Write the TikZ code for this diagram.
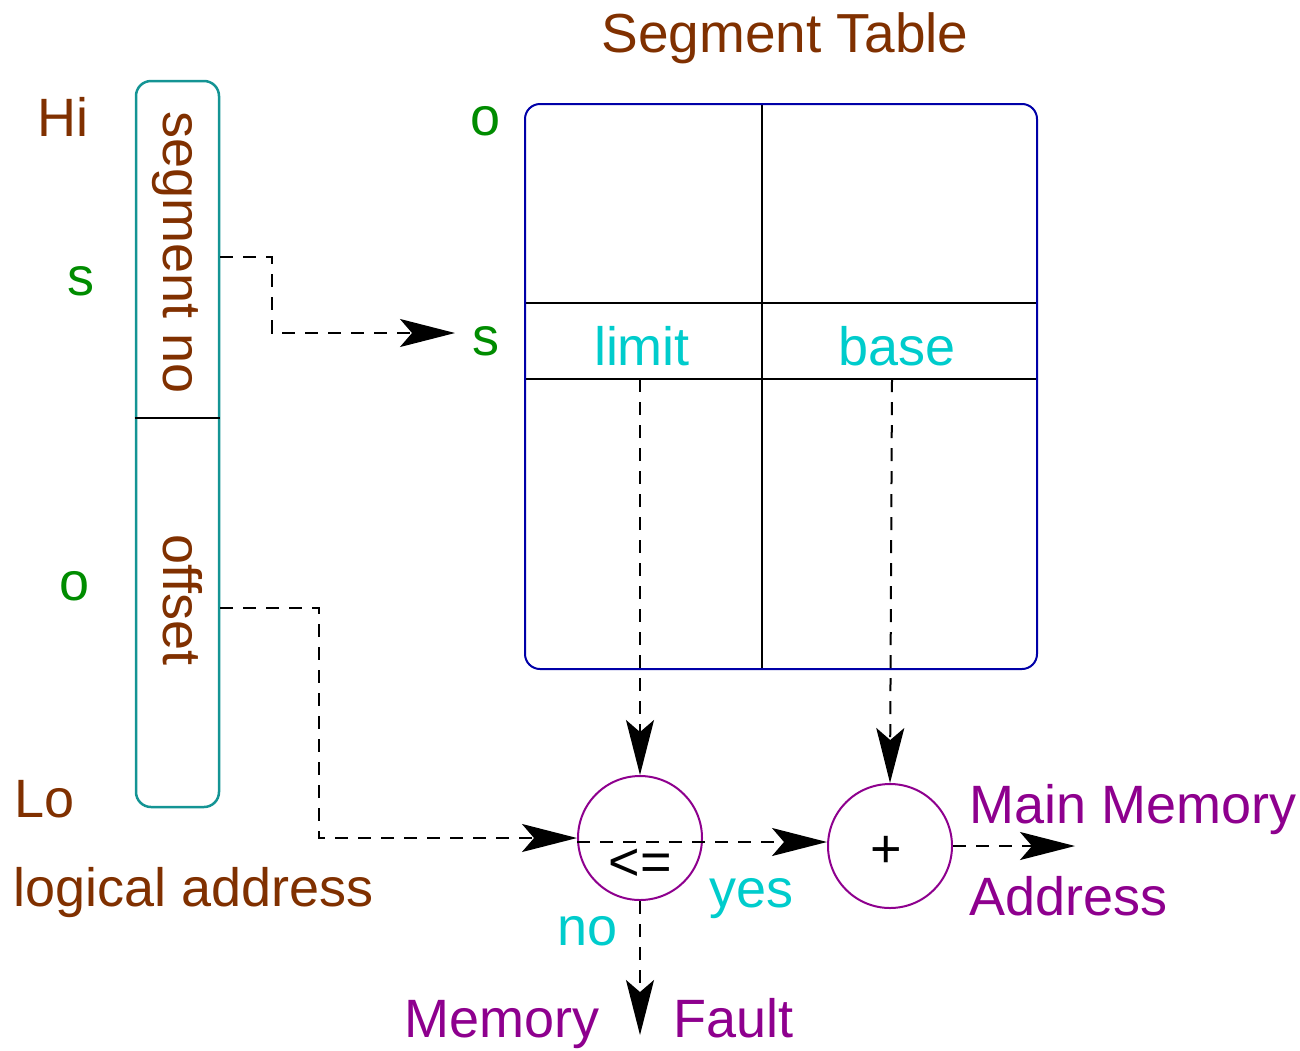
\documentclass[tikz,border=0pt]{standalone}
\usepackage{fontspec}
\setmainfont{Liberation Sans}
\usetikzlibrary{arrows.meta}
\definecolor{lbrown}{RGB}{128,48,0}
\definecolor{lgreen}{RGB}{0,140,0}
\definecolor{lcyan}{RGB}{0,204,204}
\definecolor{lpurple}{RGB}{142,0,142}
\definecolor{lteal}{RGB}{20,148,148}
\definecolor{lblue}{RGB}{0,0,168}
\begin{document}
\begin{tikzpicture}[x=1pt,y=-1pt,
  txt/.style={font=\fontsize{54}{60}\selectfont, inner sep=0pt},
  brownt/.style={txt, text=lbrown},
  greent/.style={txt, text=lgreen},
  cyant/.style={txt, text=lcyan},
  purplet/.style={txt, text=lpurple},
  blackt/.style={txt, text=black},
  grid/.style={line width=2pt, black},
  dashline/.style={line width=2pt, dash pattern=on 13pt off 10pt},
  tip/.style={-{Stealth[length=55pt,width=28pt,inset=12pt]}},
  opcircle/.style={circle, draw=lpurple, line width=2pt, minimum size=124pt, inner sep=0pt},
]
\useasboundingbox (0,0) rectangle (1300,1050);

% logical address register
\node[draw=lteal, line width=2.5pt, rounded corners=15pt, minimum width=83pt,
      minimum height=726pt, inner sep=0pt] (laddr) at (177.5,444) {};
\draw[grid] (laddr.west |- 0,418) -- (laddr.east |- 0,418);
\node[brownt, rotate=-90, anchor=base] (segno) at (163,253) {segment no};
\node[brownt, rotate=-90, anchor=base] (offs) at (163,600) {offset};

\node[brownt, anchor=base west] (hi) at (37,136) {Hi};
\node[greent, anchor=base west] (sl) at (67,295) {s};
\node[greent, anchor=base west] (ol) at (59,600) {o};
\node[brownt, anchor=base west] (lo) at (14,817) {Lo};
\node[brownt, anchor=base west] (lad) at (13,906) {logical address};

% segment table
\node[brownt, anchor=base, font=\fontsize{55}{60}\selectfont] (title) at (785,52) {Segment Table};
\draw[grid] (762,104) -- (762,669);
\draw[grid] (525,303) -- (1037,303);
\draw[grid] (525,379) -- (1037,379);
\node[draw=lblue, line width=2pt, rounded corners=15pt, minimum width=512pt,
      minimum height=565pt, inner sep=0pt] (tbl) at (781,386.5) {};
\node[greent, anchor=base] (ot) at (486,135) {o};
\node[greent, anchor=base] (st) at (486,355) {s};
\node[cyant, anchor=base] (lim) at (642,365) {limit};
\node[cyant, anchor=base] (bas) at (897,365) {base};

% comparator and adder
\node[opcircle] (cmp) at (640,838) {};
\node[blackt, anchor=base] (cmptxt) at (640,880) {<=};
\node[opcircle] (add) at (890,846) {};
\node[blackt, anchor=base] (addtxt) at (886,867) {+};

\node[cyant, anchor=base west] (yes) at (709,907) {yes};
\node[cyant, anchor=base west] (no) at (557,945) {no};
\node[purplet, anchor=base west] (mm) at (969,823) {Main Memory};
\node[purplet, anchor=base west] (ad) at (969,915) {Address};
\node[purplet, anchor=base west] (mem) at (404,1037) {Memory};
\node[purplet, anchor=base west] (flt) at (673,1037) {Fault};

% connector end points
\coordinate (segtip) at (455,333);
\coordinate (limtop) at (640,379);
\coordinate (bastop) at (892,379);
\coordinate (outtip) at (1075,846);
\coordinate (flttip) at (640,1035);

% connectors
\draw[dashline, tip] (laddr.east |- 0,257) -| (272,333) -- (segtip);
\draw[dashline, tip] (laddr.east |- 0,608) -| (319,838) -- (cmp.west);
\draw[dashline, tip] (limtop) -- (cmp.north);
\draw[dashline, tip] (bastop) -- (add.north);
\draw[dashline, tip] (cmp.west |- 0,842) -- (add.west |- 0,842);
\draw[dashline, tip] (add.east) -- (outtip);
\draw[dashline, tip] (cmp.south) -- (flttip);
\end{tikzpicture}
\end{document}
